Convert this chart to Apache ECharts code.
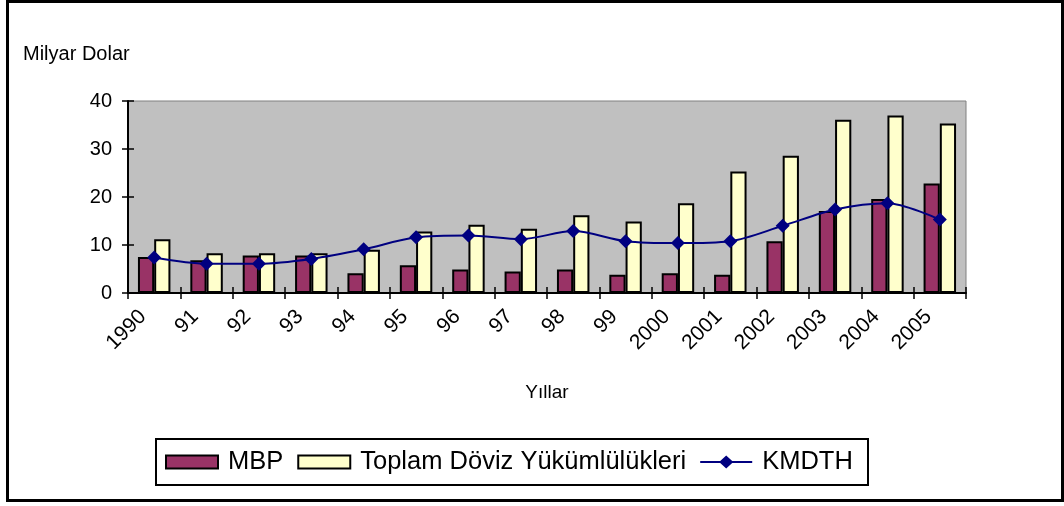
<!DOCTYPE html>
<html>
<head>
<meta charset="utf-8">
<title>MBP / Toplam Döviz Yükümlülükleri / KMDTH</title>
<script src="https://cdn.jsdelivr.net/npm/echarts@6/dist/echarts.min.js"></script>
<style>
    html, body {
        margin: 0;
        padding: 0;
        background: #fff;
    }
    #chart {
        width: 1064px;
        height: 506px;
    }
</style>
</head>
<body>
<div id="chart"></div>
<script>
const years = ['1990', '91', '92', '93', '94', '95', '96', '97', '98', '99', '2000', '2001', '2002', '2003', '2004', '2005'];
const mbp = [7.5, 6.8, 7.8, 7.8, 4.1, 5.8, 4.9, 4.5, 4.9, 3.8, 4.1, 3.8, 10.8, 17.1, 19.6, 22.8];
const toplam = [11.2, 8.3, 8.3, 8.3, 9.0, 12.8, 14.2, 13.4, 16.2, 14.9, 18.7, 25.3, 28.6, 36.1, 37.0, 35.3];
const kmdth = [7.4, 6.1, 6.1, 7.1, 9.1, 11.6, 12.0, 11.2, 12.9, 10.8, 10.4, 10.8, 14.0, 17.4, 18.7, 15.3];
const yTicks = [0, 10, 20, 30, 40];

const font = '"Liberation Sans", Arial, sans-serif';

// legend icon for the line: a short line with a diamond in the middle
const lineIcon = 'path://M0,5.5L20,5.5L26,0L32,5.5L52,5.5L52,7.5L32,7.5L26,13L20,7.5L0,7.5Z';

const chart = echarts.init(document.getElementById('chart'), null, { renderer: 'canvas' });

const valueAxis = {
    type: 'value',
    position: 'left',
    offset: 0,
    min: yTicks[0],
    max: yTicks[yTicks.length - 1],
    interval: yTicks[1] - yTicks[0],
    splitLine: { show: false },
};

const categoryAxis = {
    type: 'category',
    data: years,
    position: 'bottom',
    offset: 0,
    boundaryGap: true,
};

const option = {
    backgroundColor: '#fff',
    animation: false,
    textStyle: { fontFamily: font },
    grid: {
        left: 128,
        right: 98,
        top: 101,
        bottom: 213,
        show: true,
        backgroundColor: '#C0C0C0',
        borderColor: '#808080',
        borderWidth: 1,
    },
    legend: {
        left: 165,
        top: 448,
        padding: 0,
        itemGap: 14,
        itemWidth: 52,
        itemHeight: 13,
        textStyle: {
            fontFamily: font,
            fontSize: 25.5,
            lineHeight: 28,
            color: '#000',
            padding: [0, 0, 0, 5],
        },
        data: [
            { name: 'MBP', icon: 'rect' },
            { name: 'Toplam Döviz Yükümlülükleri', icon: 'rect' },
            { name: 'KMDTH', icon: lineIcon, itemStyle: { color: '#000080', borderWidth: 0 } },
        ],
    },
    xAxis: [
        {
            ...categoryAxis,
            name: 'Yıllar',
            nameLocation: 'middle',
            nameGap: 90,
            nameTextStyle: { fontFamily: font, fontSize: 19, color: '#000' },
            axisLine: { lineStyle: { color: '#000', width: 2 } },
            axisTick: { show: true, length: 6, lineStyle: { color: '#000', width: 1.5 } },
            axisLabel: {
                interval: 0,
                rotate: 45,
                margin: 9,
                padding: [0, 16, 0, 0],
                fontFamily: font,
                fontSize: 21,
                color: '#000',
            },
        },
        {
            // inner half of the ticks, Excel draws them across the axis
            ...categoryAxis,
            axisLine: { show: false },
            axisTick: { show: true, inside: true, length: 6, lineStyle: { color: '#000', width: 1.5 } },
            axisLabel: { show: false },
        },
    ],
    yAxis: [
        {
            ...valueAxis,
            axisLine: { show: true, lineStyle: { color: '#000', width: 2 } },
            axisTick: { show: true, length: 6, lineStyle: { color: '#000', width: 1.5 } },
            axisLabel: { margin: 16, fontFamily: font, fontSize: 20, color: '#000' },
        },
        {
            ...valueAxis,
            axisLine: { show: false },
            axisTick: { show: true, inside: true, length: 6, lineStyle: { color: '#000', width: 1.5 } },
            axisLabel: { show: false },
        },
    ],
    series: [
        {
            name: 'MBP',
            type: 'bar',
            data: mbp,
            barGap: '0%',
            barCategoryGap: '38%',
            itemStyle: { color: '#993366', borderColor: '#000', borderWidth: 2 },
        },
        {
            name: 'Toplam Döviz Yükümlülükleri',
            type: 'bar',
            data: toplam,
            barGap: '0%',
            barCategoryGap: '38%',
            itemStyle: { color: '#FFFFCC', borderColor: '#000', borderWidth: 2 },
        },
        {
            name: 'KMDTH',
            type: 'line',
            data: kmdth,
            smooth: 0.3,
            symbol: 'diamond',
            symbolSize: 14,
            z: 5,
            lineStyle: { color: '#000080', width: 2 },
            itemStyle: { color: '#000080' },
        },
    ],
    graphic: [
        {
            type: 'rect',
            shape: { x: 7.5, y: 1.5, width: 1055, height: 499 },
            style: { fill: 'none', stroke: '#000', lineWidth: 3 },
            silent: true,
        },
        {
            type: 'rect',
            shape: { x: 156, y: 439, width: 712, height: 46 },
            style: { fill: 'none', stroke: '#000', lineWidth: 2 },
            silent: true,
        },
        {
            type: 'text',
            x: 23,
            y: 54,
            style: {
                text: 'Milyar Dolar',
                font: '20px ' + font,
                fill: '#000',
                verticalAlign: 'middle',
            },
            silent: true,
        },
    ],
};

chart.setOption(option);
</script>
</body>
</html>
